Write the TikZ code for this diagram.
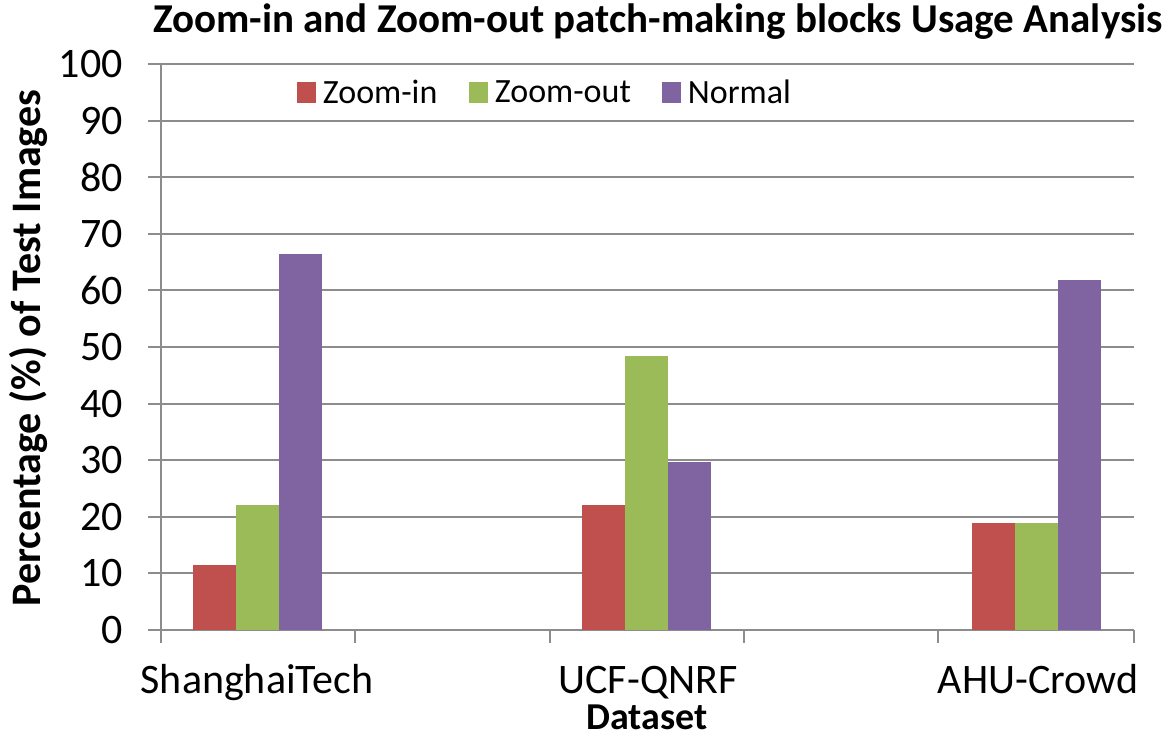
\documentclass[tikz,border=0pt]{standalone}
\usepackage{fontspec}
\setmainfont{Carlito}
\usetikzlibrary{positioning}

\definecolor{zin}{RGB}{192,80,77}
\definecolor{zout}{RGB}{155,187,89}
\definecolor{norm}{RGB}{128,100,162}
\definecolor{gridgray}{RGB}{140,140,140}

\begin{document}
\begin{tikzpicture}[x=1pt,y=-1pt,
    lbl/.style={font=\fontsize{42}{44}\selectfont,inner sep=0pt},
    leg/.style={font=\fontsize{34}{36}\selectfont,inner sep=0pt},
    cat/.style={font=\fontsize{42}{44}\selectfont,inner sep=0pt},
    bld/.style={font=\fontsize{42}{44}\selectfont\bfseries,inner sep=0pt},
    key/.style={minimum width=19pt,minimum height=21pt,inner sep=0pt}]
\useasboundingbox[fill=white] (0,0) rectangle (1175,740);

% grid and y ticks
\foreach \v in {0,10,...,100} {
    \draw[gridgray,line width=2pt] (148,{630-5.66*\v}) -- (1134,{630-5.66*\v});
    \node[lbl,anchor=east] (t\v) at (123,{630-5.66*\v}) {\v};
}
\draw[gridgray,line width=2pt] (161,64) -- (161,643);
\foreach \x in {355,550,744,938,1134}
    \draw[gridgray,line width=2pt] (\x,630) -- (\x,643);

% bars
\foreach \g/\a/\b/\c in {193/11.4/22/66.5, 582/22/48.4/29.6, 972/18.9/18.9/61.9} {
    \fill[zin] (\g,630) rectangle ({\g+43},{630-5.66*\a});
    \fill[zout] ({\g+43},630) rectangle ({\g+86},{630-5.66*\b});
    \fill[norm] ({\g+86},630) rectangle ({\g+129},{630-5.66*\c});
}

% legend
\node[key,fill=zin] (kin) at (306,92) {};
\node[leg,right=7pt of kin] (lin) {Zoom-in};
\node[key,fill=zout] (kout) at (478,92) {};
\node[leg,right=7pt of kout] (lout) {Zoom-out};
\node[key,fill=norm] (knorm) at (671,92) {};
\node[leg,right=7pt of knorm] (lnorm) {Normal};

% labels
\node[cat,anchor=base] (c1) at (257,693) {ShanghaiTech};
\node[cat,anchor=base] (c2) at (648,693) {UCF-QNRF};
\node[cat,anchor=base] (c3) at (1038,693) {AHU-Crowd};
\node[bld,font=\fontsize{38}{40}\selectfont\bfseries,anchor=base] (xlab) at (647,729) {Dataset};
\node[bld,rotate=90] (ylab) at (28,348) {Percentage (\%) of Test Images};
\node[bld,font=\fontsize{41}{44}\selectfont\bfseries] (title) at (658,22) {Zoom-in and Zoom-out patch-making blocks Usage Analysis};
\end{tikzpicture}
\end{document}
